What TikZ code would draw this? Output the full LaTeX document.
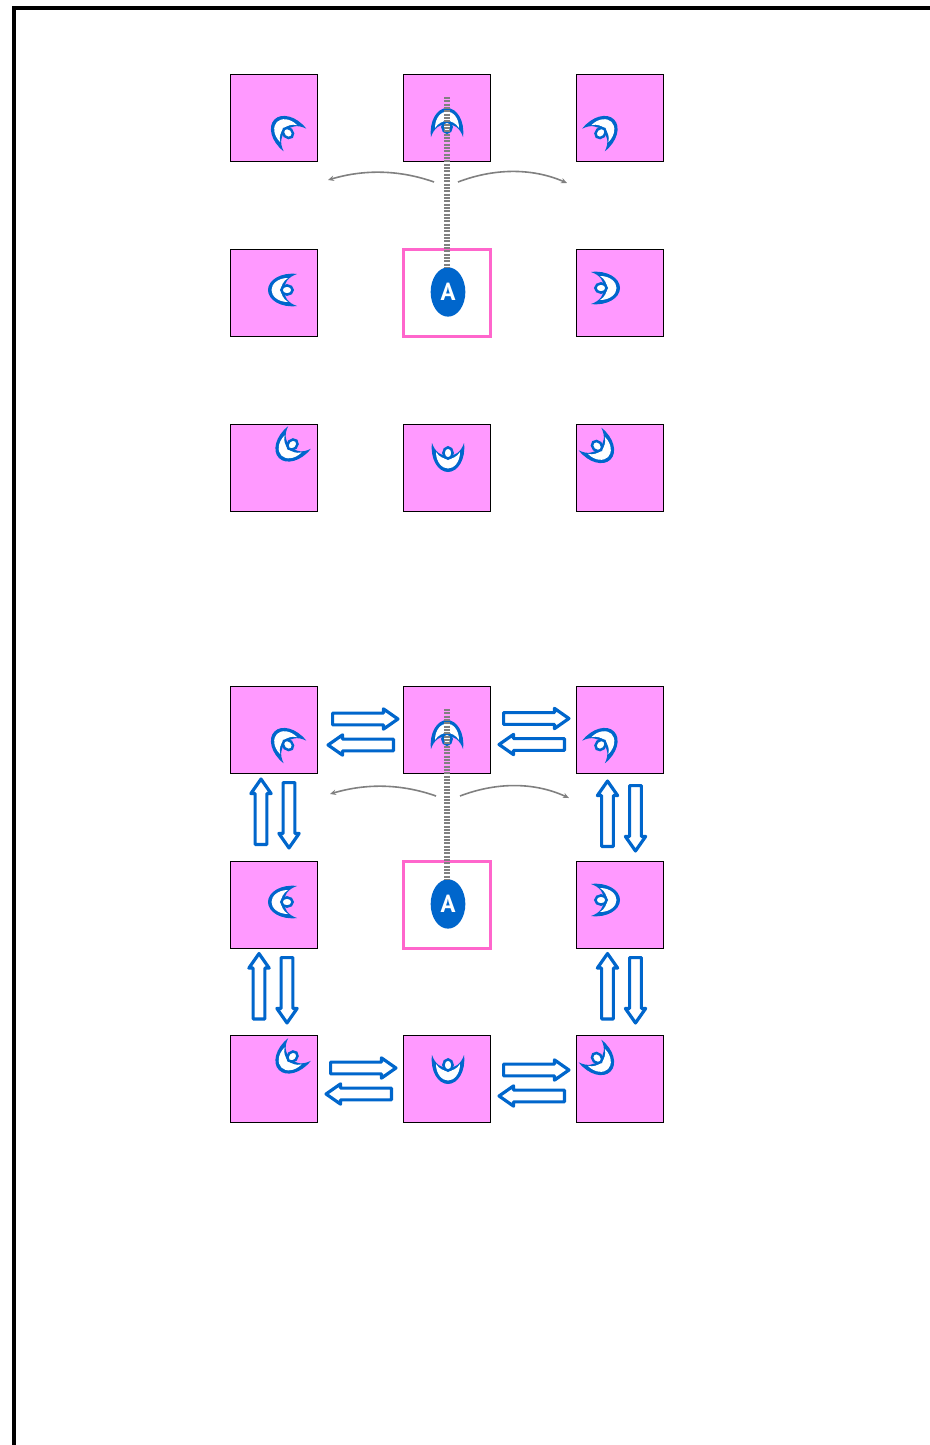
\documentclass[tikz,border=0pt]{standalone}
\usepackage{fontspec}
\setsansfont{PT Sans}
\usetikzlibrary{shapes.arrows, shapes.geometric, arrows.meta}

\definecolor{boxpink}{HTML}{FF99FF}
\definecolor{edgepink}{HTML}{FF66CC}
\definecolor{moonblue}{HTML}{0066CC}

\tikzset{
  cellbox/.style={draw=black, line width=0.6pt, fill=boxpink, minimum size=65.2pt, inner sep=0pt, outer sep=0pt},
  startbox/.style={draw=edgepink, line width=2.1pt, fill=white, minimum size=65.2pt, inner sep=0pt, outer sep=0pt},
  agentnode/.style={ellipse, fill=moonblue, text=white, font=\sffamily\bfseries\fontsize{18.5}{18.5}\selectfont, minimum width=26pt, minimum height=37pt, inner sep=0pt, outer sep=0pt},
  beamline/.style={draw=gray, line width=4.5pt, dash pattern=on 1.5pt off 1pt},
  turnarrow/.style={draw=gray, line width=1.2pt, -{Stealth[length=4.5pt, width=4pt]}},
  flowarrow/.style={single arrow, draw=moonblue, line width=2.4pt, line join=round, fill=white, anchor=tail,
    minimum height=49pt, minimum width=13pt, inner sep=3.2pt, single arrow head extend=3.2pt, single arrow tip angle=70},
  moonfig/.pic={
    \fill[moonblue]
      (-16,12) .. controls (-18,-4) and (-10,-17) .. (0,-17)
      .. controls (10,-17) and (18,-4) .. (16,12)
      .. controls (13,3) and (7,-1) .. (0,-1)
      .. controls (-7,-1) and (-13,3) .. (-16,12) -- cycle;
    \fill[white]
      (-12,3) .. controls (-12,-7) and (-6,-13.5) .. (0,-13.5)
      .. controls (6,-13.5) and (12,-7) .. (12,3)
      .. controls (9,-2) and (4,-4) .. (0,-4)
      .. controls (-4,-4) and (-9,-2) .. (-12,3) -- cycle;
    \draw[draw=moonblue, line width=1.9pt, fill=white] (0,2) ellipse (4.6 and 5.6);
  }
}

\begin{document}
\begin{tikzpicture}[x=0.75pt, y=-0.75pt]

\useasboundingbox (0,0) rectangle (930,1445);

\draw[line width=3pt, line join=miter] (14,1445) -- (14,8.5) -- (930,8.5);

% upper grid
\node[cellbox] (ul) at (273.7,118) {};
\node[cellbox] (um) at (446.7,118) {};
\node[cellbox] (ur) at (619.7,118) {};
\node[cellbox] (ml) at (273.7,292.7) {};
\node[startbox] (mm) at (446.7,292.7) {};
\node[cellbox] (mr) at (619.7,292.7) {};
\node[cellbox] (ll) at (273.7,467.7) {};
\node[cellbox] (lm) at (446.7,467.7) {};
\node[cellbox] (lr) at (619.7,467.7) {};

\pic[rotate=45] at (286.5,131.5) {moonfig};
\pic at (447,125) {moonfig};
\pic[rotate=-45] at (602,131.5) {moonfig};
\pic[rotate=90] at (285,290) {moonfig};
\pic[rotate=-90] at (603,288) {moonfig};
\pic[rotate=135] at (291,446) {moonfig};
\pic[rotate=180] at (448,455) {moonfig};
\pic[rotate=-135] at (598.5,447.5) {moonfig};

\node[agentnode] (agent) at (448,292) {\raisebox{1pt}{A}};
\coordinate (beamtop) at (447,97);
\draw[beamline] (beamtop) -- (agent.north -| beamtop);

\coordinate (turnAstart) at (434,182);
\coordinate (turnAend) at (328,180);
\coordinate (turnBstart) at (458,182);
\coordinate (turnBend) at (567,183);
\draw[turnarrow] (turnAstart) .. controls (400,170) and (365,169) .. (turnAend);
\draw[turnarrow] (turnBstart) .. controls (492,169) and (530,167) .. (turnBend);

% lower grid
\node[cellbox] (dul) at (273.7,729.7) {};
\node[cellbox] (dum) at (446.7,729.7) {};
\node[cellbox] (dur) at (619.7,729.7) {};
\node[cellbox] (dml) at (273.7,904.7) {};
\node[startbox] (dmm) at (446.7,904.7) {};
\node[cellbox] (dmr) at (619.7,904.7) {};
\node[cellbox] (dll) at (273.7,1078.7) {};
\node[cellbox] (dlm) at (446.7,1078.7) {};
\node[cellbox] (dlr) at (619.7,1078.7) {};

\pic[rotate=45] at (286.5,743.5) {moonfig};
\pic at (447,737) {moonfig};
\pic[rotate=-45] at (602,743.5) {moonfig};
\pic[rotate=90] at (285,902) {moonfig};
\pic[rotate=-90] at (603,900) {moonfig};
\pic[rotate=135] at (291,1058) {moonfig};
\pic[rotate=180] at (448,1067) {moonfig};
\pic[rotate=-135] at (598.5,1059.5) {moonfig};

\node[agentnode] (dagent) at (448,904) {\raisebox{1pt}{A}};
\coordinate (dbeamtop) at (447,709);
\draw[beamline] (dbeamtop) -- (dagent.north -| dbeamtop);

\coordinate (dturnAstart) at (436,796);
\coordinate (dturnAend) at (330,794);
\coordinate (dturnBstart) at (460,796);
\coordinate (dturnBend) at (569,798);
\draw[turnarrow] (dturnAstart) .. controls (402,784) and (367,783) .. (dturnAend);
\draw[turnarrow] (dturnBstart) .. controls (494,783) and (532,781) .. (dturnBend);

% block arrows, top row
\node[flowarrow] (aR1) at (331,719) {};
\node[flowarrow, rotate=180] (aL1) at (395,745) {};
\node[flowarrow] (aR2) at (502,718.5) {};
\node[flowarrow, rotate=180] (aL2) at (566,744.5) {};

% block arrows, left column
\node[flowarrow, rotate=90] (aU1) at (261,846) {};
\node[flowarrow, rotate=-90] (aD1) at (289,781) {};
\node[flowarrow, rotate=90] (aU2) at (259,1020.5) {};
\node[flowarrow, rotate=-90] (aD2) at (287,956) {};

% block arrows, right column
\node[flowarrow, rotate=90] (aU3) at (607.5,848) {};
\node[flowarrow, rotate=-90] (aD3) at (635.5,784) {};
\node[flowarrow, rotate=90] (aU4) at (607.5,1020.5) {};
\node[flowarrow, rotate=-90] (aD4) at (635.5,956) {};

% block arrows, bottom row
\node[flowarrow] (aR3) at (329,1068) {};
\node[flowarrow, rotate=180] (aL3) at (393,1094) {};
\node[flowarrow] (aR4) at (502,1070) {};
\node[flowarrow, rotate=180] (aL4) at (566,1096) {};

\end{tikzpicture}
\end{document}
